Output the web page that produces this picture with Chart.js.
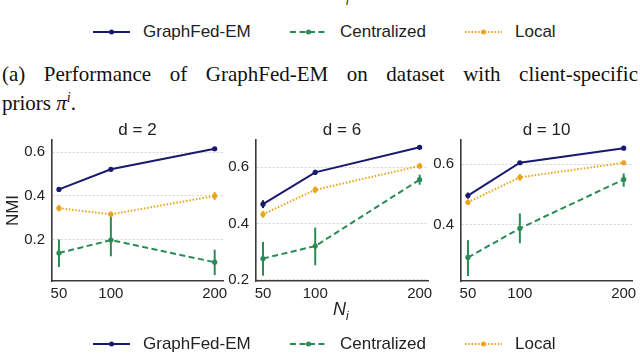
<!DOCTYPE html>
<html>
<head>
<meta charset="utf-8">
<script src="https://cdn.jsdelivr.net/npm/chart.js@4/dist/chart.umd.min.js"></script>
<style>
html, body { margin: 0; padding: 0; background: #fff; }
body { width: 640px; height: 355px; position: relative; overflow: hidden; font-family: "Liberation Sans", Arial, sans-serif; color: #222; }
.panel { position: absolute; top: 110px; height: 195px; }
.legend { position: absolute; left: 0; width: 640px; height: 20px; font-size: 17px; }
.legend .item { position: absolute; top: 0; height: 20px; display: flex; align-items: center; }
.legend svg { margin-right: 13px; }
.cap { position: absolute; left: 2px; width: 636px; font-family: "Liberation Serif", "Times New Roman", serif; font-size: 21px; line-height: 23px; color: #111; }
.cap1 { text-align: justify; text-align-last: justify; }
.ni { position: absolute; font-size: 18px; font-style: italic; }
.ni sub { font-size: 12px; }
</style>
</head>
<body>

<div class="ni" style="left:333px; top:-16px;">N<sub>i</sub></div>
<div class="legend" id="legendTop" style="top:22px;"></div>
<div class="cap cap1" style="top:63px;">(a) Performance of GraphFed-EM on dataset with client-specific</div>
<div class="cap" style="top:86px;">priors <i>π</i><sup style="font-size:14px;"><i>i</i></sup>.</div>

<canvas id="p1" class="panel" style="left:0px;" width="232" height="195"></canvas>
<canvas id="p2" class="panel" style="left:211px;" width="226" height="195"></canvas>
<canvas id="p3" class="panel" style="left:415px;" width="226" height="195"></canvas>

<div class="ni" style="left:333px; top:299px;">N<sub>i</sub></div>
<div class="legend" id="legendBottom" style="top:334px;"></div>

<script>
const sizes = [50, 100, 200];
const seriesNames = ['GraphFed-EM', 'Centralized', 'Local'];
const seriesColors = ['#191970', '#2a8c55', '#eba41c'];
const seriesDash = [[], [6, 3.5], [1.5, 1.8]];

// d = 2
const d2GraphFed = [0.429, 0.521, 0.615];
const d2GraphFedCI = [[0.419, 0.439], [0.513, 0.529], [0.607, 0.623]];
const d2Centralized = [0.138, 0.197, 0.096];
const d2CentralizedCI = [[0.074, 0.200], [0.123, 0.305], [0.037, 0.153]];
const d2Local = [0.343, 0.315, 0.399];
const d2LocalCI = [[0.328, 0.358], [0.302, 0.328], [0.381, 0.417]];

// d = 6
const d6GraphFed = [0.469, 0.582, 0.671];
const d6GraphFedCI = [[0.455, 0.483], [0.573, 0.591], [0.665, 0.677]];
const d6Centralized = [0.276, 0.320, 0.556];
const d6CentralizedCI = [[0.215, 0.335], [0.252, 0.386], [0.538, 0.574]];
const d6Local = [0.433, 0.520, 0.605];
const d6LocalCI = [[0.421, 0.445], [0.508, 0.532], [0.595, 0.615]];

// d = 10
const d10GraphFed = [0.497, 0.605, 0.653];
const d10GraphFedCI = [[0.487, 0.507], [0.600, 0.610], [0.648, 0.658]];
const d10Centralized = [0.293, 0.389, 0.550];
const d10CentralizedCI = [[0.232, 0.350], [0.340, 0.438], [0.526, 0.570]];
const d10Local = [0.475, 0.557, 0.605];
const d10LocalCI = [[0.466, 0.484], [0.546, 0.568], [0.598, 0.612]];

const xTicks = [50, 100, 200];
const yTicks2 = [0.2, 0.4, 0.6];
const yTicks6 = [0.2, 0.4, 0.6];
const yTicks10 = [0.4, 0.6];

const fontFamily = "'Liberation Sans', Arial, sans-serif";

const errorBars = {
    id: 'errorBars',
    afterDatasetsDraw(chart) {
        const ctx = chart.ctx;
        const x = chart.scales.x;
        const y = chart.scales.y;
        chart.data.datasets.forEach(ds => {
            if (!ds.ci) return;
            ctx.save();
            ctx.strokeStyle = ds.borderColor;
            ctx.lineWidth = 2;
            ds.data.forEach((p, j) => {
                const px = x.getPixelForValue(p.x);
                ctx.beginPath();
                ctx.moveTo(px, y.getPixelForValue(ds.ci[j][0]));
                ctx.lineTo(px, y.getPixelForValue(ds.ci[j][1]));
                ctx.stroke();
            });
            ctx.restore();
        });
    }
};

// panel title centred over the plot area, not the whole canvas
const areaTitle = {
    id: 'areaTitle',
    afterDraw(chart, args, opts) {
        const ctx = chart.ctx;
        const a = chart.chartArea;
        ctx.save();
        ctx.fillStyle = '#222';
        ctx.font = `17px ${fontFamily}`;
        ctx.textAlign = 'center';
        ctx.textBaseline = 'middle';
        ctx.fillText(opts.text, (a.left + a.right) / 2, 20);
        ctx.restore();
    }
};

function makeDataset(i, values, ci) {
    return {
        label: seriesNames[i],
        data: sizes.map((n, j) => ({ x: n, y: values[j] })),
        ci: ci,
        borderColor: seriesColors[i],
        backgroundColor: seriesColors[i],
        borderWidth: 2,
        borderDash: seriesDash[i],
        pointRadius: 2.6,
        pointBorderWidth: 0,
        pointHoverRadius: 2.6,
        tension: 0
    };
}

function drawPanel(id, title, series, yMin, yMax, yTicks, yWidth, showYTitle) {
    const ctx = document.getElementById(id).getContext('2d');
    return new Chart(ctx, {
        type: 'line',
        data: {
            datasets: [
                makeDataset(0, series[0], series[1]),
                makeDataset(1, series[2], series[3]),
                makeDataset(2, series[4], series[5])
            ]
        },
        options: {
            responsive: false,
            animation: false,
            events: [],
            layout: { padding: { left: 0, right: 9, top: 30, bottom: 0 } },
            plugins: {
                legend: { display: false },
                tooltip: { enabled: false },
                areaTitle: { text: title }
            },
            scales: {
                x: {
                    type: 'linear',
                    min: 43.3,
                    max: 208,
                    afterBuildTicks: s => { s.ticks = xTicks.map(v => ({ value: v })); },
                    afterFit: s => { s.height = 24; },
                    grid: { display: false, drawTicks: false },
                    border: { display: true, color: '#3a3a3a', width: 1.6 },
                    ticks: {
                        color: '#222',
                        padding: 4,
                        maxRotation: 0,
                        font: { family: fontFamily, size: 15 }
                    }
                },
                y: {
                    min: yMin,
                    max: yMax,
                    afterBuildTicks: s => { s.ticks = yTicks.map(v => ({ value: v })); },
                    afterFit: s => { s.width = yWidth; },
                    grid: { color: '#d4d4d4', lineWidth: 1, drawTicks: false },
                    border: { display: true, color: '#3a3a3a', width: 1.6, dash: [2, 2] },
                    ticks: {
                        color: '#222',
                        padding: 7,
                        font: { family: fontFamily, size: 15 },
                        callback: v => v.toFixed(1)
                    },
                    title: {
                        display: showYTitle,
                        text: 'NMI',
                        color: '#222',
                        font: { family: fontFamily, size: 17 },
                        padding: { top: 3, bottom: 0 }
                    }
                }
            }
        },
        plugins: [errorBars, areaTitle]
    });
}

drawPanel('p1', 'd = 2',
    [d2GraphFed, d2GraphFedCI, d2Centralized, d2CentralizedCI, d2Local, d2LocalCI],
    0.01, 0.655, yTicks2, 52, true);
drawPanel('p2', 'd = 6',
    [d6GraphFed, d6GraphFedCI, d6Centralized, d6CentralizedCI, d6Local, d6LocalCI],
    0.196, 0.697, yTicks6, 45, false);
drawPanel('p3', 'd = 10',
    [d10GraphFed, d10GraphFedCI, d10Centralized, d10CentralizedCI, d10Local, d10LocalCI],
    0.2155, 0.68, yTicks10, 46, false);

// legends (figure-level, two copies)
const legendLeft = [93, 290, 465];
function buildLegend(el) {
    seriesNames.forEach((name, i) => {
        const item = document.createElement('div');
        item.className = 'item';
        item.style.left = legendLeft[i] + 'px';
        const dash = seriesDash[i].length ? `stroke-dasharray="${seriesDash[i].join(' ')}"` : '';
        item.innerHTML = `<svg width="37" height="10"><line x1="0" y1="5" x2="37" y2="5" stroke="${seriesColors[i]}" stroke-width="2" ${dash}/>` +
            `<circle cx="18.5" cy="5" r="2.5" fill="${seriesColors[i]}"/></svg><span>${name}</span>`;
        el.appendChild(item);
    });
}
buildLegend(document.getElementById('legendTop'));
buildLegend(document.getElementById('legendBottom'));
</script>
</body>
</html>
